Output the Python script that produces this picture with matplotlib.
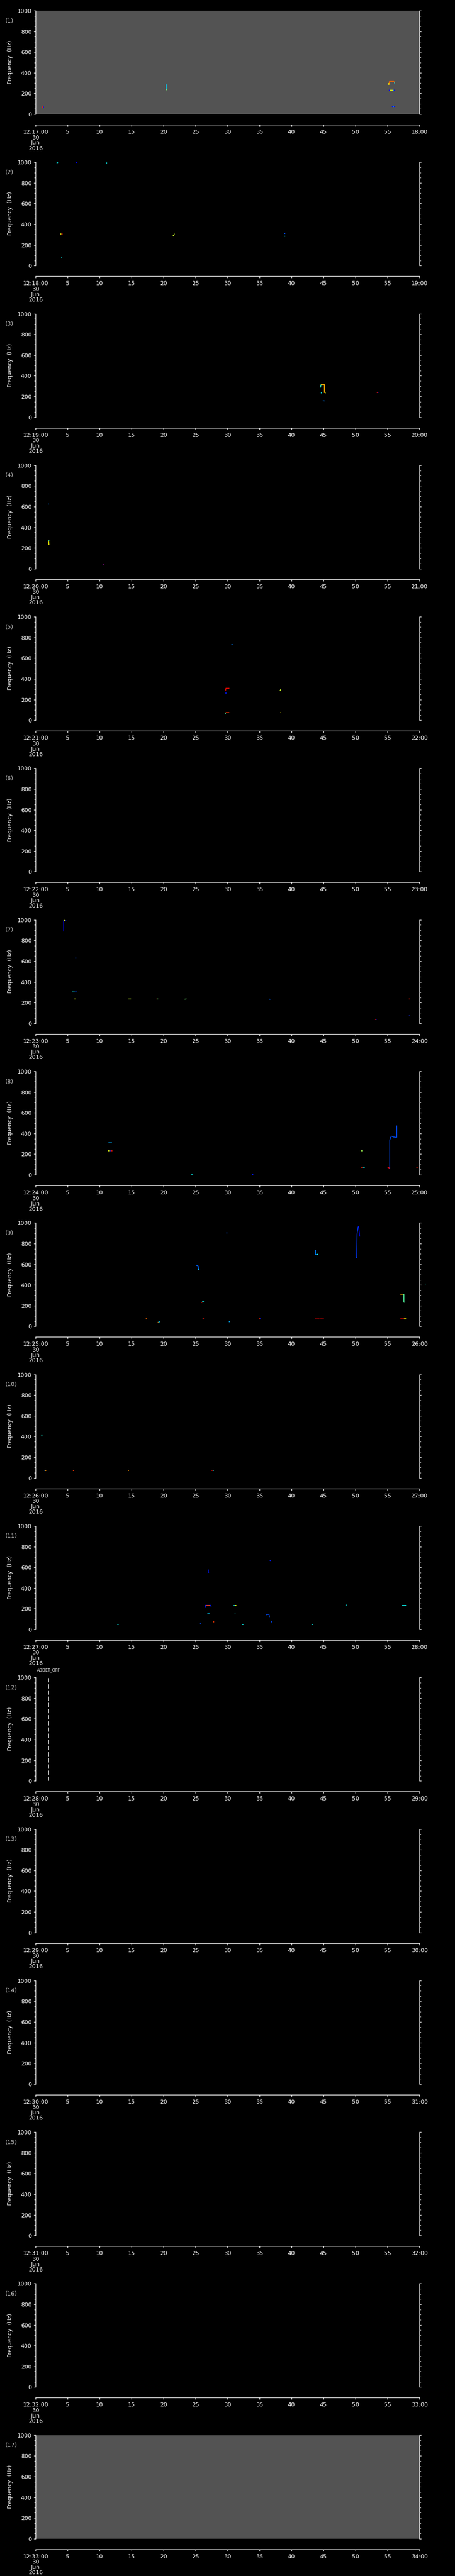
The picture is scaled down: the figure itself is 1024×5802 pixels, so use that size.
import matplotlib
matplotlib.use('Agg')
import matplotlib.pyplot as plt
from matplotlib.ticker import MultipleLocator, FixedLocator

# ---------------- data ----------------
W, H, DPI = 1024, 5802, 100
N_PANELS = 17
start_minutes = list(range(17, 34))          # 12:17 ... 12:33
date_lines = ['30', 'Jun', '2016']
freq_ticks = [0, 200, 400, 600, 800, 1000]
time_ticks = list(range(0, 61, 5))
gray_panels = [1, 17]                        # panels drawn with grey (no-data) fill
event_panel = 12
event_time = 2.0
event_label = 'ADDET_OFF'

# marks: (times [s], freqs [Hz], jet colour value)
p01 = [([1.0, 1.17], [70, 70], 0.88), ([1.17, 1.35], [70, 70], 0.12),
       ([20.4, 20.4], [289, 240], 0.33), ([20.4, 20.48], [240, 232], 0.5),
       ([55.24, 55.3, 56.0, 56.1], [283, 315, 315, 305], 0.8),
       ([55.24, 55.24], [283, 300], 0.65), ([56.1, 56.14], [305, 297], 0.36),
       ([55.2, 55.4], [233, 233], 0.12), ([55.4, 55.8], [233, 233], 0.63),
       ([55.8, 56.0], [233, 233], 0.36), ([56.0, 56.12], [233, 233], 0.12),
       ([55.7, 55.85], [74, 74], 0.12), ([55.85, 56.0], [74, 74], 0.36),
       ([56.0, 56.1], [74, 74], 0.12)]
p02 = [([3.3, 3.5], [992, 997], 0.36), ([6.3, 6.45], [996, 996], 0.12),
       ([11.0, 11.2], [994, 994], 0.36), ([3.85, 4.0], [306, 306], 0.63),
       ([4.0, 4.25], [306, 306], 0.9), ([4.0, 4.2], [77, 77], 0.36),
       ([21.45, 21.6, 21.7], [288, 292, 309], 0.6),
       ([38.85, 39.0], [310, 310], 0.2), ([38.85, 39.0], [285, 285], 0.36)]
p03 = [([44.6, 45.13, 45.13], [314, 314, 236], 0.72),
       ([44.54, 44.6], [286, 314], 0.4), ([44.6, 44.75], [236, 236], 0.36),
       ([45.2, 45.35], [236, 236], 0.63), ([44.9, 45.2], [159, 157], 0.25),
       ([53.3, 53.45], [237, 237], 0.88), ([53.45, 53.6], [238, 240], 0.12)]
p04 = [([1.95, 2.1], [623, 626], 0.25), ([2.05, 2.05], [275, 265], 0.45),
       ([2.05, 2.1], [265, 229], 0.65), ([10.5, 10.75], [37, 37], 0.12),
       ([10.55, 10.65], [37, 37], 0.88)]
p05 = [([30.6, 30.8], [729, 733], 0.25), ([29.71, 29.75, 30.3], [287, 309, 309], 0.9),
       ([29.6, 29.9], [261, 261], 0.15), ([29.72, 30.3], [73, 73], 0.85),
       ([29.62, 29.72], [60, 73], 0.45), ([38.19, 38.33], [283, 300], 0.6),
       ([38.25, 38.38], [73, 73], 0.65)]
p06 = []
p07 = [([4.37, 4.37], [886, 994], 0.05), ([4.45, 4.6], [995, 995], 0.63),
       ([4.6, 4.8], [995, 988], 0.15), ([6.2, 6.4], [630, 630], 0.2),
       ([5.69, 6.1], [313, 313], 0.36), ([6.1, 6.46], [313, 313], 0.2),
       ([6.05, 6.35], [236, 236], 0.63), ([14.5, 14.95], [236, 236], 0.6),
       ([18.9, 19.05], [236, 236], 0.88), ([19.05, 19.2], [236, 236], 0.5),
       ([23.3, 23.6], [233, 236], 0.5), ([36.5, 36.7], [234, 232], 0.22),
       ([53.05, 53.2], [39, 39], 0.88), ([53.2, 53.35], [39, 39], 0.1),
       ([58.35, 58.55], [236, 236], 0.88), ([58.35, 58.45], [73, 73], 0.15),
       ([58.45, 58.55], [73, 73], 0.63)]
p08 = [([11.4, 11.94], [309, 309], 0.3), ([11.3, 11.5], [231, 231], 0.63),
       ([11.5, 11.75], [231, 231], 0.15), ([11.75, 12.0], [231, 231], 0.88),
       ([24.35, 24.5], [3, 3], 0.36), ([33.8, 34.0], [3, 3], 0.15),
       ([50.8, 51.2], [231, 231], 0.55), ([50.8, 51.2], [73, 73], 0.88),
       ([51.2, 51.45], [73, 73], 0.36), ([55.0, 55.2, 55.27], [73, 73, 59], 0.9),
       ([55.36, 55.36, 55.5, 55.64, 55.91, 56.36, 56.45, 56.45],
        [59, 338, 362, 374, 366, 362, 362, 477], 0.2),
       ([59.5, 59.7], [73, 73], 0.88)]
p09 = [([29.8, 30.0], [902, 902], 0.22), ([25.09, 25.41, 25.5], [590, 583, 544], 0.22),
       ([25.45, 25.55], [546, 546], 0.36), ([25.95, 26.05], [228, 236], 0.88),
       ([26.05, 26.3], [236, 236], 0.36), ([17.25, 17.43], [77, 77], 0.8),
       ([19.1, 19.2], [38, 40], 0.75), ([19.2, 19.5], [42, 44], 0.33),
       ([26.09, 26.2], [77, 77], 0.36), ([26.2, 26.32], [77, 77], 0.88),
       ([30.2, 30.35], [43, 43], 0.3), ([34.9, 35.05], [77, 77], 0.88),
       ([35.05, 35.2], [77, 77], 0.15), ([43.7, 44.4], [77, 77], 0.97),
       ([44.5, 44.7], [77, 77], 0.97), ([44.8, 45.1], [77, 77], 0.97),
       ([43.72, 43.72, 44.2], [739, 694, 694], 0.25), ([43.9, 44.2], [696, 696], 0.36),
       ([50.07, 50.2, 50.25, 50.4, 50.47], [662, 668, 893, 955, 967], 0.18),
       ([50.5, 50.66], [967, 868], 0.1),
       ([57.0, 57.4], [311, 311], 0.72), ([57.4, 57.59], [311, 311], 0.6),
       ([57.59, 57.59, 57.7], [311, 234, 234], 0.45),
       ([57.0, 57.6], [77, 77], 0.92), ([57.6, 57.9], [77, 77], 0.65),
       ([60.8, 61.0], [410, 410], 0.38)]
p10 = [([0.85, 1.1], [413, 413], 0.38), ([1.4, 1.55], [73, 73], 0.25),
       ([1.55, 1.65], [73, 73], 0.75), ([5.8, 5.95], [73, 73], 0.85),
       ([14.45, 14.6], [73, 73], 0.75), ([27.5, 27.7], [70, 73], 0.95),
       ([27.7, 27.85], [73, 73], 0.36)]
p11 = [([36.6, 36.75], [668, 663], 0.15), ([27.0, 27.0, 27.1], [579, 552, 550], 0.15),
       ([26.49, 26.55, 27.4, 27.45], [207, 233, 233, 214], 0.15),
       ([26.6, 27.2], [233, 233], 0.85), ([30.93, 31.2], [230, 231], 0.36),
       ([31.2, 31.39], [231, 231], 0.63), ([48.55, 48.65], [236, 234], 0.36),
       ([57.32, 57.91], [231, 231], 0.36), ([26.86, 27.22], [153, 150], 0.33),
       ([31.1, 31.25], [150, 150], 0.36), ([36.06, 36.47, 36.56], [140, 147, 119], 0.2),
       ([12.8, 13.0], [45, 45], 0.36), ([25.7, 25.9], [60, 60], 0.2),
       ([27.7, 27.9], [73, 73], 0.85), ([32.3, 32.5], [45, 45], 0.36),
       ([36.8, 37.0], [73, 73], 0.2), ([43.1, 43.3], [45, 45], 0.36)]
empty = []
panel_marks = [p01, p02, p03, p04, p05, p06, p07, p08, p09, p10, p11,
               empty, empty, empty, empty, empty, empty]

# ---------------- drawing ----------------
plt.rcParams['font.family'] = ['DejaVu Sans']
fig = plt.figure(figsize=(W / DPI, H / DPI), dpi=DPI, facecolor='black')
jet = matplotlib.colormaps['jet']
PT = 72.0 / DPI   # points per pixel
step = H / N_PANELS
x0, x1 = 80, 944

for k in range(N_PANELS):
    off = k * step
    top, bot = off + 24, off + 257
    ax = fig.add_axes([x0 / W, 1 - bot / H, (x1 - x0) / W, (bot - top) / H])
    ax.set_facecolor('#535353' if (k + 1) in gray_panels else 'black')
    ax.set_xlim(0, 60)
    ax.set_ylim(0, 1000)
    ax.spines['top'].set_visible(False)
    for s in ['left', 'right', 'bottom']:
        ax.spines[s].set_color('white')
        ax.spines[s].set_linewidth(1.0)
    ax.spines['bottom'].set_position(('outward', 24 * PT))

    ax.yaxis.set_major_locator(FixedLocator(freq_ticks))
    ax.yaxis.set_minor_locator(MultipleLocator(50))
    ax.xaxis.set_major_locator(FixedLocator(time_ticks))
    m = start_minutes[k]
    xl = ['12:%02d:00' % m] + [str(t) for t in time_ticks[1:-1]] + ['%02d:00' % (m + 1)]
    ax.set_xticklabels(xl)
    ax.tick_params(axis='y', which='both', direction='out', colors='white',
                   left=True, right=True, labelright=False, labelsize=9.2,
                   pad=5 * PT)
    ax.tick_params(axis='y', which='major', length=4 * PT, width=1.0)
    ax.tick_params(axis='y', which='minor', length=3 * PT, width=1.0)
    ax.tick_params(axis='x', which='major', direction='out', colors='white',
                   length=4 * PT, width=1.0, labelsize=9.2, pad=6 * PT)

    for ts, fs, c in panel_marks[k]:
        ax.plot(ts, fs, color=jet(c), lw=1.25, solid_capstyle='butt', clip_on=False)

    if k + 1 == event_panel:
        ax.plot([event_time, event_time], [0, 1000], color='white', lw=1.0,
                dashes=(7, 3))
        fig.text((x0 + event_time / 60 * (x1 - x0)) / W, 1 - (off + 7) / H,
                 event_label, color='white', fontsize=6.5, ha='center', va='center')

    for txt, yy in zip(date_lines, [310, 322, 334]):
        fig.text(x0 / W, 1 - (off + yy) / H, txt, color='white', fontsize=9.2,
                 ha='center', va='center')
    fig.text(23 / W, 1 - (off + 140) / H, 'Frequency  (Hz)', color='white',
             fontsize=9, rotation=90, ha='center', va='center')
    fig.text(12 / W, 1 - (off + 47) / H, '(%d)' % (k + 1), color='#c8c8c8',
             fontsize=9.4, ha='left', va='center')

fig.savefig('out.png', dpi=DPI, facecolor='black')
